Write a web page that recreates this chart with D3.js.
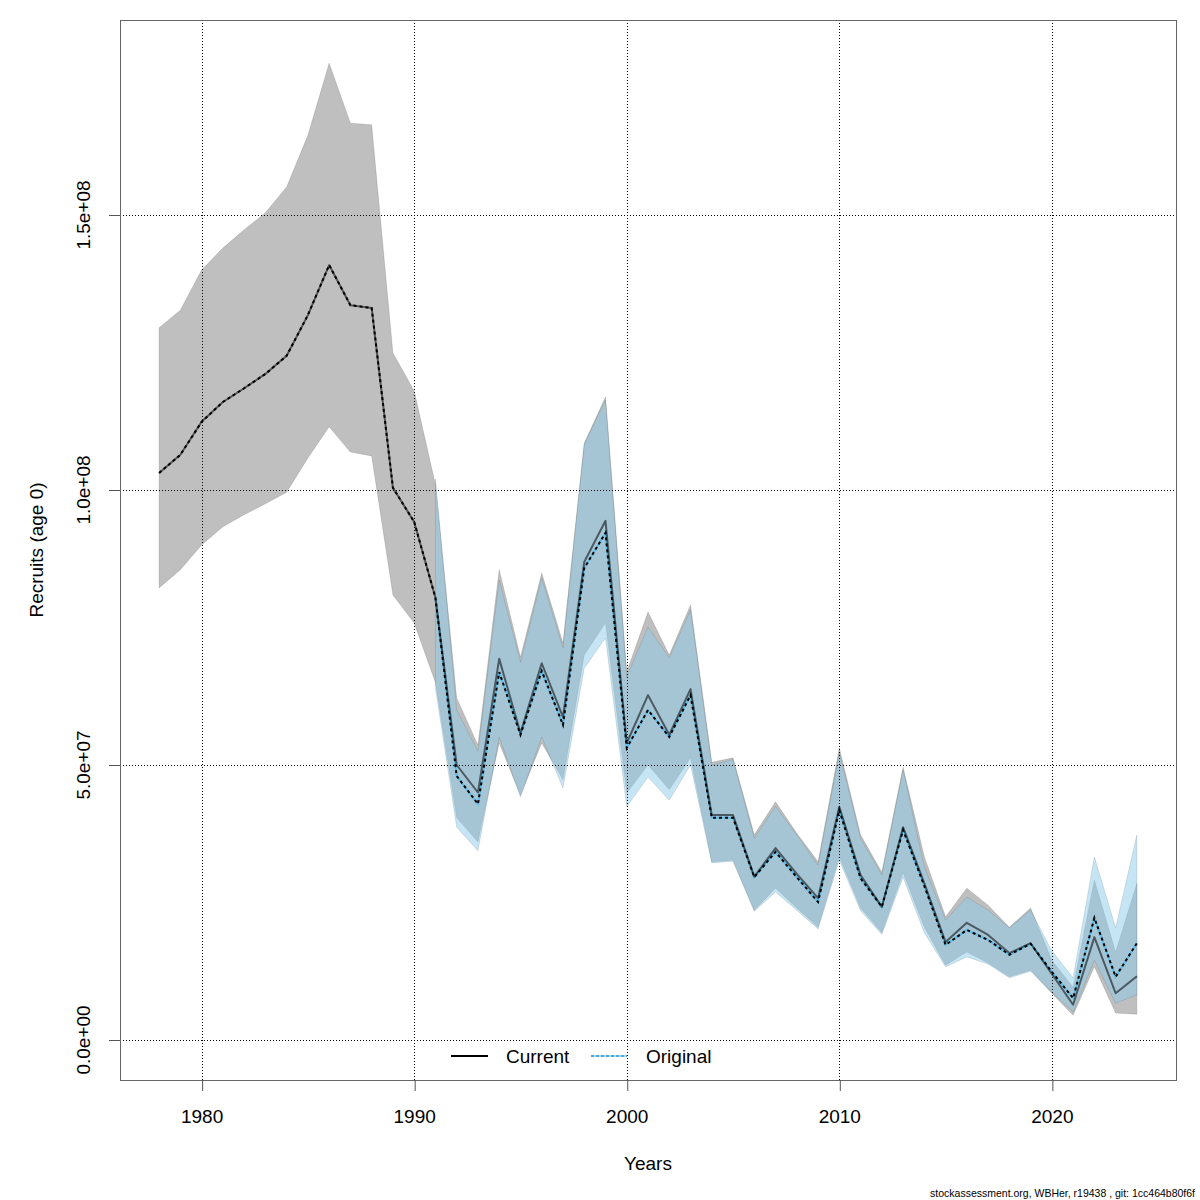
<!DOCTYPE html>
<html>
<head>
<meta charset="utf-8">
<script src="https://cdn.jsdelivr.net/npm/d3@7"></script>
<style>
  body { margin: 0; background: #fff; }
  svg { display: block; font-family: "Liberation Sans", Arial, Helvetica, sans-serif; }
</style>
</head>
<body>
<div id="chart"></div>
<script>
// Recruits (age 0), values in millions
const years = d3.range(1978, 2025);

const currentMed = [103.1, 106.4, 112.4, 116.0, 118.5, 121.1, 124.4, 131.8, 140.9, 133.6, 133.1, 100.4, 94.2,
  80.4, 50.0, 45.0, 69.3, 55.8, 68.5, 58.7, 86.9, 94.4, 54.0, 62.7, 55.5, 63.8, 40.9, 40.9, 29.7, 34.9,
  30.2, 25.8, 42.4, 30.0, 24.2, 38.7, 28.5, 17.8, 21.3, 19.1, 15.8, 17.6, 12.0, 6.4, 18.7, 8.5, 11.6];
const currentLo = [82.2, 85.5, 90.0, 93.3, 95.5, 97.5, 99.6, 105.8, 111.5, 106.9, 106.2, 80.9, 75.8,
  65.0, 40.4, 36.0, 54.0, 44.5, 54.0, 47.3, 70.0, 75.8, 44.9, 50.0, 45.5, 51.3, 32.4, 32.7, 23.6, 27.6,
  24.0, 20.5, 33.3, 24.0, 19.5, 30.4, 20.5, 13.6, 16.0, 14.0, 11.5, 12.7, 8.5, 4.5, 13.3, 4.9, 4.7];
const currentHi = [129.5, 132.7, 140.0, 144.0, 147.3, 150.4, 155.1, 164.5, 177.6, 166.7, 166.4, 124.9, 118.0,
  101.0, 62.2, 53.6, 85.5, 69.6, 84.9, 72.2, 108.5, 116.9, 66.9, 77.8, 70.0, 79.1, 50.5, 51.3, 37.3, 43.3,
  37.6, 32.4, 53.1, 37.3, 30.5, 49.6, 33.3, 22.4, 27.6, 24.5, 20.5, 24.0, 14.5, 9.6, 29.1, 16.0, 28.5];

const originalMed = [103.1, 106.4, 112.4, 116.0, 118.5, 121.1, 124.4, 131.8, 140.9, 133.6, 133.1, 100.4, 94.2,
  80.4, 48.0, 42.9, 66.9, 55.5, 67.1, 57.3, 85.8, 92.2, 53.1, 60.0, 55.1, 62.7, 40.4, 40.4, 29.6, 34.2,
  29.6, 25.1, 41.8, 29.4, 24.2, 38.2, 28.0, 17.3, 20.0, 18.2, 15.5, 17.5, 12.4, 7.6, 22.2, 11.5, 17.6];
// original intervals only reported from 1991
const originalLo = [null, null, null, null, null, null, null, null, null, null, null, null, null,
  64.0, 38.7, 34.4, 55.1, 44.2, 55.1, 45.8, 67.6, 73.1, 42.4, 47.8, 43.6, 50.0, 32.2, 32.5, 23.4, 26.9,
  23.6, 20.2, 32.7, 23.5, 19.2, 29.6, 19.5, 13.3, 15.1, 13.8, 11.3, 12.5, 8.7, 5.1, 14.5, 6.7, 8.2];
const originalHi = [null, null, null, null, null, null, null, null, null, null, null, null, null,
  102.0, 60.0, 52.5, 83.6, 68.7, 84.0, 71.3, 108.3, 116.4, 66.0, 75.1, 69.5, 78.2, 50.0, 51.0, 36.7, 42.5,
  37.3, 31.8, 52.2, 36.7, 30.0, 49.1, 31.5, 21.8, 26.0, 23.6, 20.4, 23.6, 16.2, 11.3, 33.3, 20.4, 37.3];

const xTicks = [1980, 1990, 2000, 2010, 2020];
const yTicks = [0, 5e7, 1e8, 1.5e8];
const yTickLabels = ['0.0e+00', '5.0e+07', '1.0e+08', '1.5e+08'];

const W = 1200, H = 1200;
const box = { left: 120, right: 1176, top: 20, bottom: 1080 };
const FS = 19;

const svg = d3.select('#chart').append('svg')
  .attr('width', W)
  .attr('height', H);

const x = d3.scaleLinear()
  .domain([1976.16, 2025.84])
  .range([box.left, box.right]);

const y = d3.scaleLinear()
  .domain([0, 1.5e8])
  .range([1040, 215]);

const rows = years.map((yr, i) => ({
  year: yr,
  cMed: currentMed[i] * 1e6, cLo: currentLo[i] * 1e6, cHi: currentHi[i] * 1e6,
  oMed: originalMed[i] * 1e6,
  oLo: originalLo[i] == null ? null : originalLo[i] * 1e6,
  oHi: originalHi[i] == null ? null : originalHi[i] * 1e6
}));

// bands
const curArea = d3.area()
  .x(d => x(d.year))
  .y0(d => y(d.cLo))
  .y1(d => y(d.cHi));

const origArea = d3.area()
  .defined(d => d.oLo != null)
  .x(d => x(d.year))
  .y0(d => y(d.oLo))
  .y1(d => y(d.oHi));

svg.append('path')
  .datum(rows)
  .attr('d', curArea)
  .attr('fill', 'rgba(0,0,0,0.25)')
  .attr('stroke', 'rgba(0,0,0,0.12)')
  .attr('stroke-width', 1);

svg.append('path')
  .datum(rows)
  .attr('d', origArea)
  .attr('fill', 'rgba(139,203,235,0.5)')
  .attr('stroke', 'rgba(0,0,0,0.1)')
  .attr('stroke-width', 1);

// grid
const grid = svg.append('g')
  .attr('stroke', '#000')
  .attr('stroke-width', 1)
  .attr('stroke-dasharray', '1,2');

grid.selectAll('.vg')
  .data(xTicks)
  .enter()
  .append('line')
  .attr('x1', d => Math.round(x(d)) + 0.5)
  .attr('x2', d => Math.round(x(d)) + 0.5)
  .attr('y1', box.top)
  .attr('y2', box.bottom);

grid.selectAll('.hg')
  .data(yTicks)
  .enter()
  .append('line')
  .attr('x1', box.left)
  .attr('x2', box.right)
  .attr('y1', d => Math.round(y(d)) + 0.5)
  .attr('y2', d => Math.round(y(d)) + 0.5);

// lines
const origLine = d3.line()
  .x(d => x(d.year))
  .y(d => y(d.oMed));

const curLine = d3.line()
  .x(d => x(d.year))
  .y(d => y(d.cMed));

// light blue underlay of the original line only where its interval exists
svg.append('path')
  .datum(rows.filter(d => d.oLo != null))
  .attr('d', origLine)
  .attr('fill', 'none')
  .attr('stroke', '#5bbde8')
  .attr('stroke-width', 2);

svg.append('path')
  .datum(rows)
  .attr('d', curLine)
  .attr('fill', 'none')
  .attr('stroke', 'rgba(0,0,0,0.55)')
  .attr('stroke-width', 2)
  .attr('stroke-linejoin', 'round');

svg.append('path')
  .datum(rows)
  .attr('d', origLine)
  .attr('fill', 'none')
  .attr('stroke', '#000')
  .attr('stroke-width', 2)
  .attr('stroke-dasharray', '3,3');

// box
svg.append('rect')
  .attr('x', box.left + 0.5)
  .attr('y', box.top + 0.5)
  .attr('width', box.right - box.left)
  .attr('height', box.bottom - box.top)
  .attr('fill', 'none')
  .attr('stroke', '#666')
  .attr('stroke-width', 1);

// x axis
const xAxis = svg.append('g')
  .attr('transform', `translate(0,${box.bottom})`)
  .call(d3.axisBottom(x).tickValues(xTicks).tickSize(11).tickPadding(19).tickFormat(d3.format('d')));
xAxis.select('.domain').remove();
xAxis.selectAll('line').attr('stroke', '#555').attr('transform', 'translate(0.5,0)');
xAxis.selectAll('text').attr('font-size', FS).attr('fill', '#000')
  .attr('font-family', '"Liberation Sans", Arial, sans-serif');

// y axis
const yAxis = svg.append('g');
yAxis.selectAll('line')
  .data(yTicks)
  .enter()
  .append('line')
  .attr('x1', box.left - 11)
  .attr('x2', box.left)
  .attr('y1', d => Math.round(y(d)) + 0.5)
  .attr('y2', d => Math.round(y(d)) + 0.5)
  .attr('stroke', '#555');

yAxis.selectAll('text')
  .data(yTicks)
  .enter()
  .append('text')
  .attr('transform', d => `translate(90,${y(d)}) rotate(-90)`)
  .attr('text-anchor', 'middle')
  .attr('font-size', FS)
  .text((d, i) => yTickLabels[i]);

// titles
svg.append('text')
  .attr('x', (box.left + box.right) / 2)
  .attr('y', 1170)
  .attr('text-anchor', 'middle')
  .attr('font-size', FS)
  .text('Years');

svg.append('text')
  .attr('transform', `translate(43,${(box.top + box.bottom) / 2}) rotate(-90)`)
  .attr('text-anchor', 'middle')
  .attr('font-size', FS)
  .text('Recruits (age 0)');

// legend
const legend = svg.append('g');
legend.append('line')
  .attr('x1', 451).attr('x2', 488).attr('y1', 1056).attr('y2', 1056)
  .attr('stroke', '#000').attr('stroke-width', 2);
legend.append('text')
  .attr('x', 506).attr('y', 1063).attr('font-size', FS)
  .text('Current');
legend.append('line')
  .attr('x1', 591).attr('x2', 627).attr('y1', 1056).attr('y2', 1056)
  .attr('stroke', '#a8dcf2').attr('stroke-width', 2);
legend.append('line')
  .attr('x1', 591).attr('x2', 627).attr('y1', 1056).attr('y2', 1056)
  .attr('stroke', '#4aaee0').attr('stroke-width', 2).attr('stroke-dasharray', '3,2');
legend.append('text')
  .attr('x', 646).attr('y', 1063).attr('font-size', FS)
  .text('Original');

// footer
svg.append('text')
  .attr('x', 1195)
  .attr('y', 1197)
  .attr('text-anchor', 'end')
  .attr('font-size', 10.5)
  .text('stockassessment.org, WBHer, r19438 , git: 1cc464b80f6f');
</script>
</body>
</html>
